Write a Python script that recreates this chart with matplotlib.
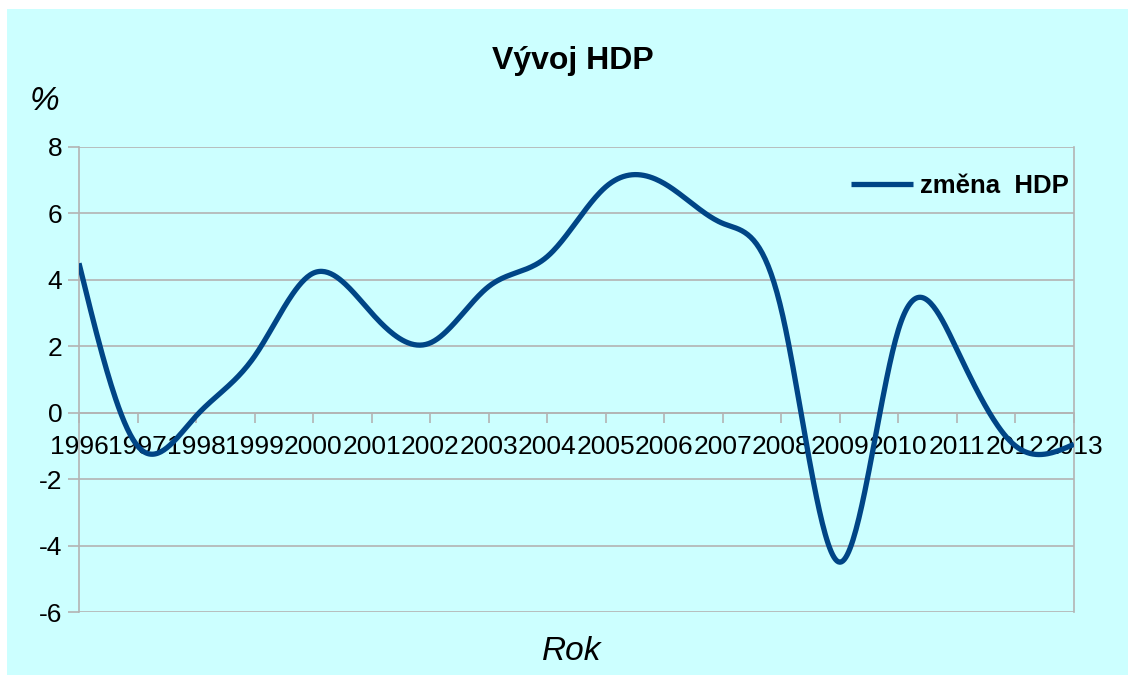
import numpy as np
import matplotlib.pyplot as plt
from matplotlib.patches import Rectangle

years = list(range(1996, 2014))
hdp = [4.5, -1.0, -0.1, 1.7, 4.2, 3.0, 2.1, 3.8, 4.7, 6.8, 6.9, 5.7, 3.1, -4.5, 2.5, 1.9, -1.0, -0.95]
y_ticks = [-6, -4, -2, 0, 2, 4, 6, 8]

line_color = '#004586'
bg_color = '#ccffff'
grid_color = '#b3b3b3'


def natural_spline(x, y, n=40):
    # natural cubic spline, like the "smooth" line of office charts
    x = np.asarray(x, float)
    y = np.asarray(y, float)
    k = len(x)
    h = np.diff(x)
    A = np.zeros((k, k))
    b = np.zeros(k)
    A[0, 0] = A[-1, -1] = 1
    for i in range(1, k - 1):
        A[i, i - 1] = h[i - 1]
        A[i, i] = 2 * (h[i - 1] + h[i])
        A[i, i + 1] = h[i]
        b[i] = 6 * ((y[i + 1] - y[i]) / h[i] - (y[i] - y[i - 1]) / h[i - 1])
    m = np.linalg.solve(A, b)
    xs, ys = [], []
    for i in range(k - 1):
        t = np.linspace(x[i], x[i + 1], n, endpoint=False)
        a = x[i + 1] - t
        c = t - x[i]
        s = (m[i] * a ** 3 + m[i + 1] * c ** 3) / (6 * h[i]) \
            + (y[i] / h[i] - m[i] * h[i] / 6) * a \
            + (y[i + 1] / h[i] - m[i + 1] * h[i] / 6) * c
        xs.extend(t)
        ys.extend(s)
    xs.append(x[-1])
    ys.append(y[-1])
    return np.array(xs), np.array(ys)


plt.rcParams['font.family'] = ['Liberation Sans', 'DejaVu Sans']
plt.rcParams['axes.unicode_minus'] = False

fig = plt.figure(figsize=(11.28, 6.75), dpi=100)
fig.patch.set_facecolor('white')
fig.patches.append(Rectangle((7 / 1128, 0), 1, 1 - 9 / 675, transform=fig.transFigure,
                             facecolor=bg_color, edgecolor='none', zorder=-10))

ax = fig.add_axes([79 / 1128, 1 - 612 / 675, (1074 - 79) / 1128, (612 - 147) / 675])
ax.set_facecolor(bg_color)

sx, sy = natural_spline(years, hdp)
ax.plot(sx, sy, color=line_color, lw=3.8, solid_capstyle='butt', label='změna  HDP', zorder=3)

ax.set_xlim(1996, 2013)
ax.set_ylim(-6, 8)
ax.set_xticks(years)
ax.set_xticklabels([str(y) for y in years])
ax.set_yticks(y_ticks)
ax.grid(axis='y', color=grid_color, lw=1.2)
ax.set_axisbelow(True)

for s in ['left', 'right', 'top', 'bottom']:
    ax.spines[s].set_color(grid_color)
    ax.spines[s].set_linewidth(1.2)
ax.spines['bottom'].set_position(('data', 0))
ax.spines['top'].set_visible(False)

ax.tick_params(axis='y', length=8, width=1.2, color=grid_color, labelsize=19, pad=4)
ax.tick_params(axis='x', length=7, width=1.2, color=grid_color, labelsize=19, pad=9)

ax.legend(loc='center left', bbox_to_anchor=(851 / 1128, 1 - 186 / 675), bbox_transform=fig.transFigure,
          frameon=False, borderpad=0, borderaxespad=0, handlelength=2.4, handletextpad=0.3,
          prop={'size': 18.5, 'weight': 'bold'})

fig.text(573 / 1128, 1 - 61 / 675, 'Vývoj HDP', ha='center', va='center', fontsize=23, fontweight='bold')
fig.text(44 / 1128, 1 - 102 / 675, '%', ha='center', va='center', fontsize=24, style='italic')
fig.text(572 / 1128, 1 - 652 / 675, 'Rok', ha='center', va='center', fontsize=24, style='italic')

fig.savefig('out.png', dpi=100, facecolor='white')
